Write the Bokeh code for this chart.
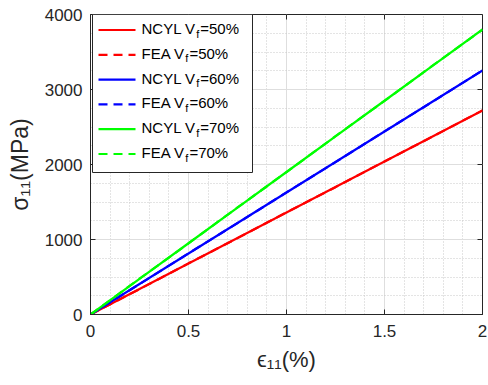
import numpy as np
from bokeh.plotting import figure
from bokeh.models import (Range1d, FixedTicker, BoxAnnotation, Label, CustomJSTickFormatter)
from bokeh.embed import file_html
from bokeh.resources import INLINE

# ---------------- data ----------------
strain = [0.0, 0.25, 0.5, 0.75, 1.0, 1.25, 1.5, 1.75, 2.0]
ncyl_50 = [0, 340, 680, 1020, 1360, 1700, 2040, 2380, 2720]
fea_50 = [0, 338, 682, 1018, 1362, 1698, 2041, 2378, 2722]
ncyl_60 = [0, 407, 813, 1220, 1627, 2033, 2440, 2847, 3253]
fea_60 = [0, 405, 815, 1218, 1628, 2031, 2442, 2845, 3255]
ncyl_70 = [0, 475, 950, 1425, 1900, 2375, 2850, 3325, 3800]
fea_70 = [0, 477, 948, 1427, 1898, 2377, 2848, 3327, 3798]

legend_main = ["NCYL V", "FEA V", "NCYL V", "FEA V", "NCYL V", "FEA V"]
legend_sub = ["f", "f", "f", "f", "f", "f"]
legend_tail = ["=50%", "=50%", "=60%", "=60%", "=70%", "=70%"]

xticks = [0, 0.5, 1, 1.5, 2]
xtick_labels = ["0", "0.5", "1", "1.5", "2"]
yticks = [0, 1000, 2000, 3000, 4000]
ytick_labels = ["0", "1000", "2000", "3000", "4000"]
x_title = "ϵ₁₁(%)"
y_title = "σ₁₁(MPa)"
X0, X1 = 0, 2
Y0, Y1 = 0, 4000

# ---------------- layout constants ----------------
W, H = 488, 385
FL, FR, FT, FB = 90, 6, 14, 71
FW, FH = W - FL - FR, H - FT - FB
FONT = "Liberation Sans"
DARK = "#262626"


def dx(cx):
    """canvas pixel x -> data x (frame is fixed by the borders)"""
    return X0 + (cx - FL) / FW * (X1 - X0)


def dy(cy):
    """canvas pixel y (from top) -> data y"""
    return Y0 + (FT + FH - cy) / FH * (Y1 - Y0)


p = figure(width=W, height=H, output_backend="svg", toolbar_location=None,
           x_range=Range1d(X0, X1), y_range=Range1d(Y0, Y1),
           min_border_left=FL, min_border_right=FR, min_border_top=FT,
           min_border_bottom=FB, x_axis_label=x_title, y_axis_label=y_title)
p.background_fill_color = "white"
p.border_fill_color = "white"
p.outline_line_color = DARK
p.outline_line_width = 1

xminor = list(np.round(np.arange(0, 2.0001, 0.1), 2))
yminor = list(np.arange(0, 4001, 250))
xt = FixedTicker(ticks=xticks, minor_ticks=xminor)
yt = FixedTicker(ticks=yticks, minor_ticks=yminor)
fmt_code = "const i = tvals.indexOf(tick); return i >= 0 ? tlabels[i] : String(tick);"
xf = CustomJSTickFormatter(args=dict(tvals=xticks, tlabels=xtick_labels), code=fmt_code)
yf = CustomJSTickFormatter(args=dict(tvals=yticks, tlabels=ytick_labels), code=fmt_code)

for ax, tk, f in ((p.xaxis[0], xt, xf), (p.yaxis[0], yt, yf)):
    ax.ticker = tk
    ax.formatter = f
    ax.major_tick_in = 5
    ax.major_tick_out = 0
    ax.minor_tick_in = 0
    ax.minor_tick_out = 0
    ax.minor_tick_line_color = None
    ax.axis_line_color = DARK
    ax.major_tick_line_color = DARK
    ax.major_label_text_font = FONT
    ax.major_label_text_font_size = "17px"
    ax.major_label_text_color = DARK
    ax.axis_label_text_font = FONT
    ax.axis_label_text_font_style = "normal"
    ax.axis_label_text_color = DARK
p.xaxis[0].axis_label_text_font_size = "22px"
p.yaxis[0].axis_label_text_font_size = "23px"
p.xaxis[0].major_label_standoff = 10
p.yaxis[0].major_label_standoff = 8
p.xaxis[0].axis_label_standoff = 7
p.yaxis[0].axis_label_standoff = 9

p.xgrid.ticker = xt
p.ygrid.ticker = yt
for g in (p.xgrid[0], p.ygrid[0]):
    g.grid_line_color = "#dedede"
    g.grid_line_width = 1
    g.minor_grid_line_color = "#c8c8c8"
    g.minor_grid_line_dash = "1 2"
    g.minor_grid_line_width = 1

# mirrored inward ticks on the top and right edges of the box
tick_dx = 5 / FW * (X1 - X0)
tick_dy = 5 / FH * (Y1 - Y0)
p.segment(x0=[X1] * len(yticks), y0=yticks, x1=[X1 - tick_dx] * len(yticks), y1=yticks,
          line_color=DARK, line_width=1)
p.segment(x0=xticks, y0=[Y1] * len(xticks), x1=xticks, y1=[Y1 - tick_dy] * len(xticks),
          line_color=DARK, line_width=1)

colors = ["#ff0000", "#ff0000", "#0000ff", "#0000ff", "#00ff00", "#00ff00"]
dashes = ["solid", "9 6", "solid", "9 6", "solid", "9 6"]
ys = [ncyl_50, fea_50, ncyl_60, fea_60, ncyl_70, fea_70]
for yv, c, d in zip(ys, colors, dashes):
    p.line(strain, yv, line_color=c, line_width=2.2, line_dash=d)

# ---------------- legend (box, samples, texts with subscript) ----------------
BOX_L, BOX_R, BOX_T, BOX_B = 92, 252, 14, 172
p.add_layout(BoxAnnotation(left=dx(BOX_L), right=dx(BOX_R), top=dy(BOX_T), bottom=dy(BOX_B),
                           fill_color="white", fill_alpha=1, line_color=DARK, line_width=1,
                           line_alpha=1))

ROW0, ROW_PITCH = 29.5, 24.8
SAMPLE_L, SAMPLE_R, TEXT_L = 98, 135, 141
LEG_FS, SUB_FS = 15, 11
TEXT_SHIFT = -1.5  # label baseline relative to the sample line (screen px)

# Arial / Liberation Sans advance widths (per 1000 em)
ADV = {"N": 722, "C": 722, "Y": 667, "L": 556, " ": 278, "V": 667, "F": 611,
       "E": 667, "A": 667, "f": 278}


def width(s, size):
    return sum(ADV[ch] for ch in s) * size / 1000.0


rows = [ROW0 + i * ROW_PITCH for i in range(len(legend_main))]
for cy, c, d in zip(rows, colors, dashes):
    p.line([dx(SAMPLE_L), dx(SAMPLE_R)], [dy(cy), dy(cy)], line_color=c, line_width=2.2,
           line_dash=d, level="overlay")

for cy, m, s, t in zip(rows, legend_main, legend_sub, legend_tail):
    base = cy + TEXT_SHIFT
    x_sub = TEXT_L + width(m, LEG_FS) + 0.5
    x_tail = x_sub + width(s, SUB_FS) + 1.0
    for txt, cx, by, fs in ((m, TEXT_L, base, LEG_FS), (s, x_sub, base + 5, SUB_FS),
                            (t, x_tail, base, LEG_FS)):
        p.add_layout(Label(x=dx(cx), y=dy(by), text=txt, text_font=FONT,
                           text_font_size=f"{fs}px", text_color="black",
                           text_align="left", text_baseline="alphabetic"))

open("out.html", "w").write(file_html(p, INLINE))
